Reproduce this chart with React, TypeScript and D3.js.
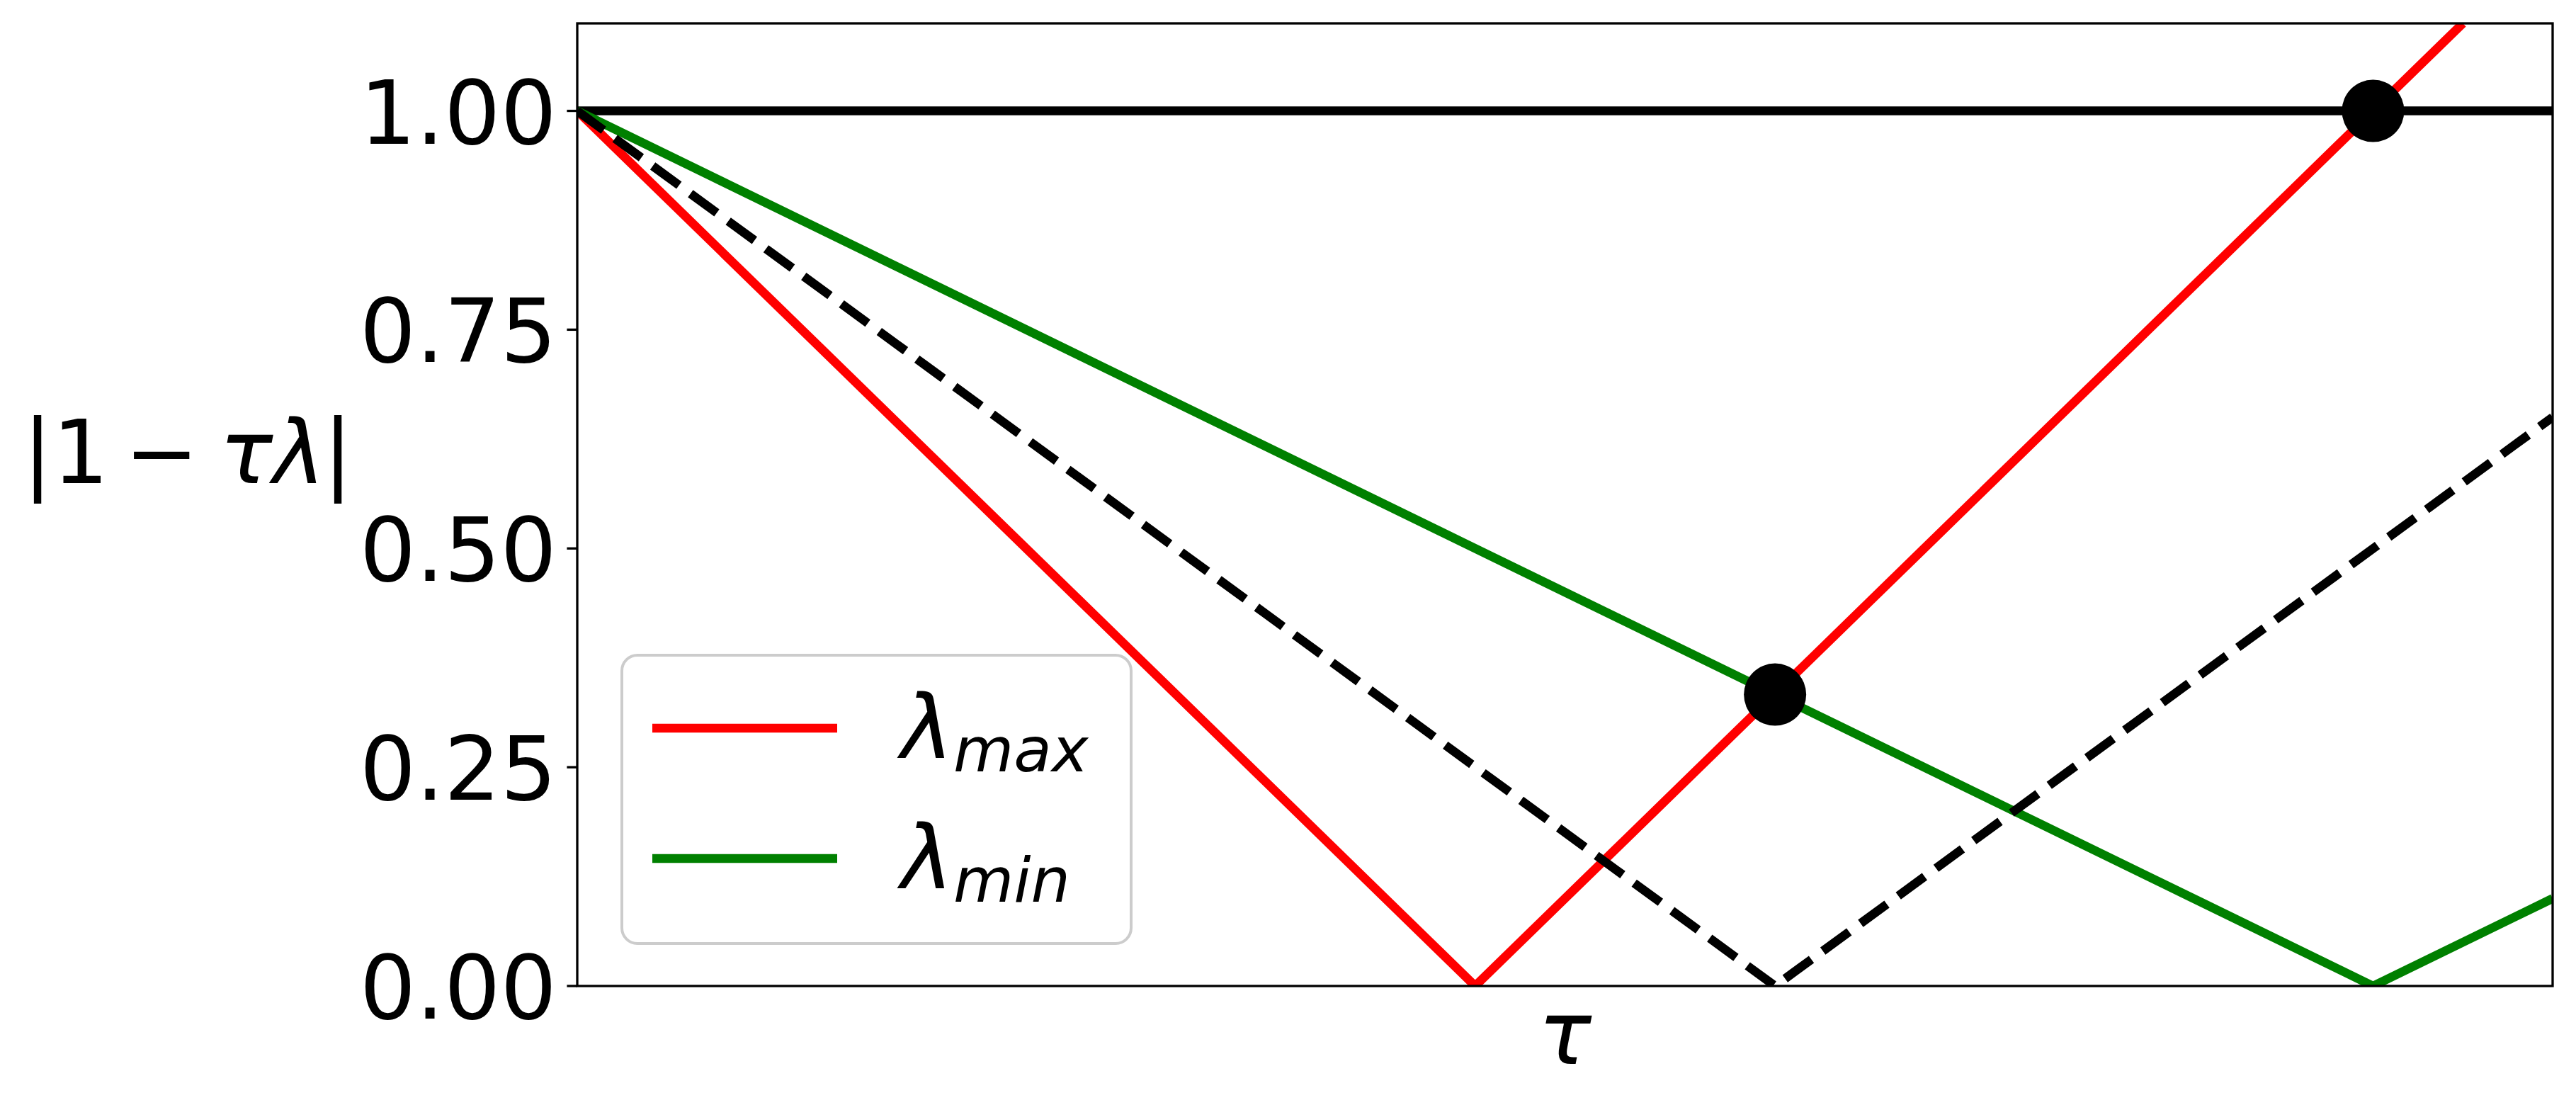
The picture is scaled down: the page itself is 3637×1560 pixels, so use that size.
import React from 'react';
import { scaleLinear, line } from 'd3';

// values
const redTau = [0, 0.5, 1.05];
const redVal = [1, 0, 1.1];
const greenTau = [0, 1.0, 1.1];
const greenVal = [1, 0, 0.1];
const dashTau = [0, 0.667, 1.1];
const dashVal = [1, 0, 0.65];
const unitTau = [0, 1.1];
const unitVal = [1, 1];
const dotTau = [0.667, 1.0];
const dotVal = [0.333, 1.0];
const yTicks = [0, 0.25, 0.5, 0.75, 1.0];
const yTickLabels = ['0.00', '0.25', '0.50', '0.75', '1.00'];
const legendNames = ['max', 'min'];
const legendColors = ['#ff0000', '#008000'];

const W = 3637;
const H = 1560;
const margin = { left: 815, top: 33, right: W - 3604, bottom: H - 1392 };
const FONT = '"DejaVu Sans", sans-serif';
const FS = 125;
const LW = 12.5;

const toPts = (xs: number[], ys: number[]) => xs.map((x, i) => [x, ys[i]] as [number, number]);

const App = () => {
  const xScale = scaleLinear().domain([0, 1.1]).range([margin.left, W - margin.right]);
  const yScale = scaleLinear().domain([0, 1.1]).range([H - margin.bottom, margin.top]);
  const path = line<[number, number]>()
    .x(d => xScale(d[0]))
    .y(d => yScale(d[1]));

  const x0 = margin.left;
  const x1 = W - margin.right;
  const y0 = margin.top;
  const y1 = H - margin.bottom;

  return (
    <svg
      width={W}
      height={H}
      style={{ position: 'absolute', left: 0, top: 0, background: 'white' }}
      fontFamily={FONT}
    >
      <defs>
        <clipPath id="plotArea">
          <rect x={x0} y={y0} width={x1 - x0} height={y1 - y0} />
        </clipPath>
      </defs>

      <g clipPath="url(#plotArea)" fill="none" strokeLinejoin="round">
        <path d={path(toPts(unitTau, unitVal)) || ''} stroke="black" strokeWidth={LW} />
        <path d={path(toPts(redTau, redVal)) || ''} stroke="#ff0000" strokeWidth={LW} />
        <path d={path(toPts(greenTau, greenVal)) || ''} stroke="#008000" strokeWidth={LW} />
        <path
          d={path(toPts(dashTau, dashVal)) || ''}
          stroke="black"
          strokeWidth={LW}
          strokeDasharray="46 20"
        />
        {dotTau.map((t, i) => (
          <circle key={i} cx={xScale(t)} cy={yScale(dotVal[i])} r={44} fill="black" />
        ))}
      </g>

      {/* frame */}
      <rect x={x0} y={y0} width={x1 - x0} height={y1 - y0} fill="none" stroke="black" strokeWidth={3.3} />

      {/* y ticks */}
      {yTicks.map((v, i) => (
        <g key={v} transform={`translate(0, ${yScale(v)})`}>
          <line x1={x0} x2={x0 - 14.6} stroke="black" strokeWidth={3.3} />
          <text x={x0 - 29} y={46} fontSize={FS} textAnchor="end">
            {yTickLabels[i]}
          </text>
        </g>
      ))}

      {/* y label: |1 − τλ| */}
      <text y={682} fontSize={FS}>
        <tspan x={32}>|</tspan>
        <tspan x={74}>1</tspan>
        <tspan x={176}>−</tspan>
        <tspan x={310} fontStyle="italic">τλ</tspan>
        <tspan x={456}>|</tspan>
      </text>

      {/* x label */}
      <text x={(x0 + x1) / 2} y={1502} fontSize={FS} fontStyle="italic" textAnchor="middle">
        τ
      </text>

      {/* legend */}
      <rect x={878} y={925} width={719} height={407} rx={22} ry={22} fill="white" fillOpacity={0.8} stroke="#cccccc" strokeWidth={4} />
      {legendNames.map((name, i) => {
        const yy = 1028 + i * 184;
        return (
          <g key={name}>
            <line x1={921} x2={1182} y1={yy} y2={yy} stroke={legendColors[i]} strokeWidth={LW} />
            <text x={1272} y={yy + 42} fontSize={FS} fontStyle="italic">
              λ
              <tspan fontSize={FS * 0.7} dy={19}>{name}</tspan>
            </text>
          </g>
        );
      })}
    </svg>
  );
};

export default App;
